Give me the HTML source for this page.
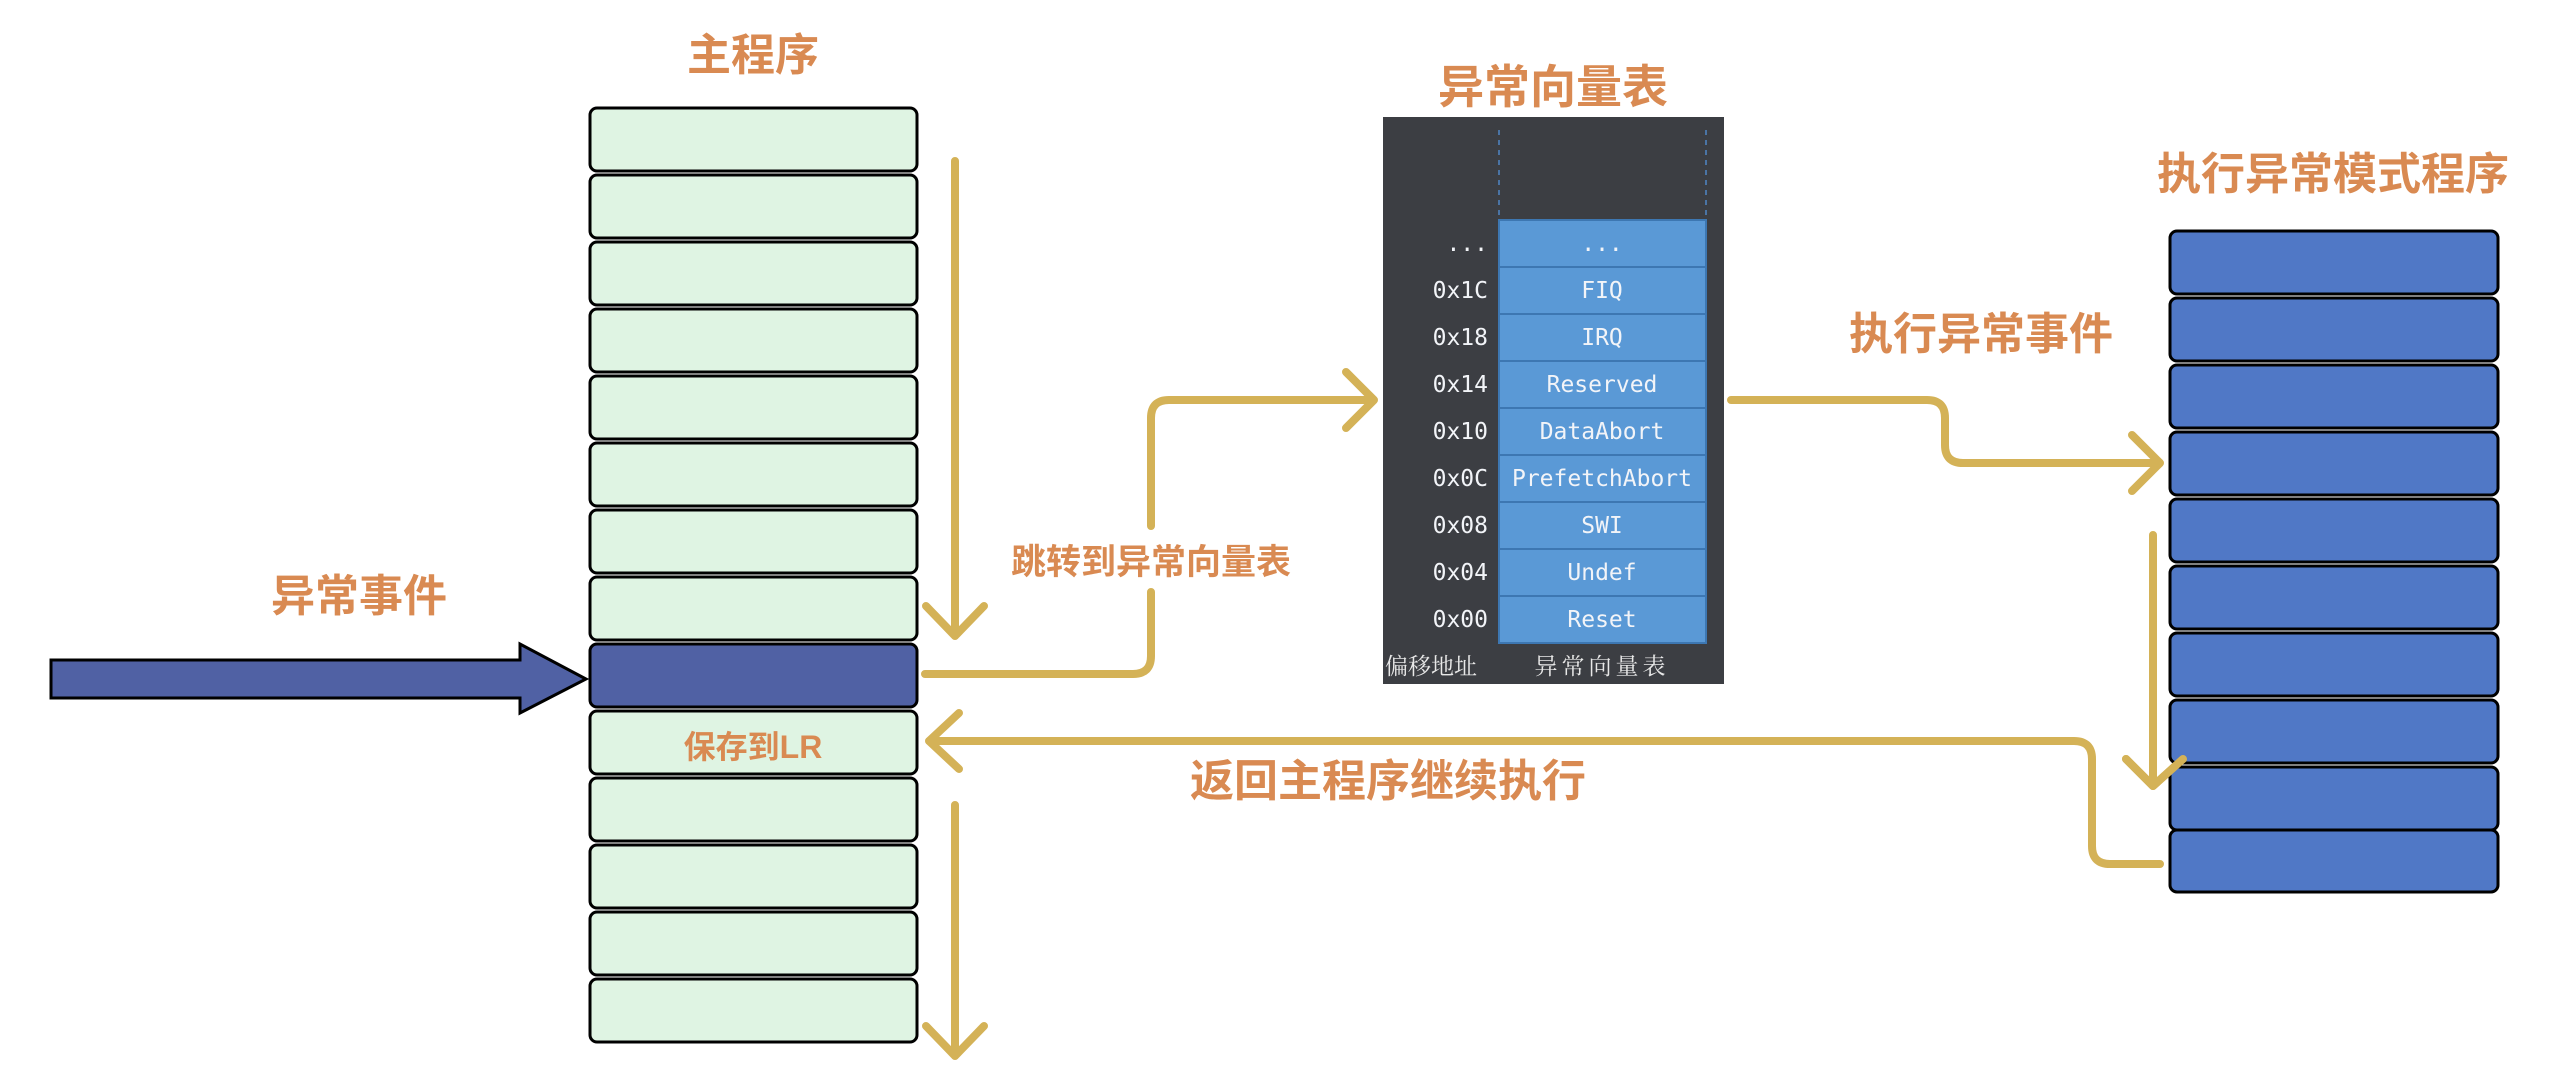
<!DOCTYPE html>
<html><head><meta charset="utf-8"><style>
html,body{margin:0;padding:0;background:#fff;}
svg{display:block}
.t{font-family:"Liberation Sans","Noto Sans CJK SC",sans-serif;font-weight:bold;fill:#d98a52;}
.m{font-family:"DejaVu Sans Mono","Liberation Mono","Noto Sans CJK SC",monospace;fill:#f2f4f8;font-size:23px;}
.g{fill:none;stroke:#d4b257;stroke-width:8;stroke-linecap:round;stroke-linejoin:round;}
</style></head><body>
<svg width="2560" height="1080" viewBox="0 0 2560 1080" xmlns="http://www.w3.org/2000/svg">
<!-- titles -->
<text class="t" x="753" y="70" font-size="44" text-anchor="middle">主程序</text>
<text class="t" x="1553" y="103" font-size="46" text-anchor="middle">异常向量表</text>
<text class="t" x="2333" y="189" font-size="44" text-anchor="middle">执行异常模式程序</text>
<text class="t" x="359" y="611" font-size="44" text-anchor="middle">异常事件</text>
<text class="t" x="1151" y="574" font-size="35" text-anchor="middle">跳转到异常向量表</text>
<text class="t" x="1981" y="349" font-size="44" text-anchor="middle">执行异常事件</text>
<text class="t" x="1388" y="796" font-size="44" text-anchor="middle">返回主程序继续执行</text>

<!-- main column -->
<g stroke="#000" stroke-width="3">
<rect x="590" y="108" width="327" height="63" rx="7" fill="#dff4e3"/>
<rect x="590" y="175" width="327" height="63" rx="7" fill="#dff4e3"/>
<rect x="590" y="242" width="327" height="63" rx="7" fill="#dff4e3"/>
<rect x="590" y="309" width="327" height="63" rx="7" fill="#dff4e3"/>
<rect x="590" y="376" width="327" height="63" rx="7" fill="#dff4e3"/>
<rect x="590" y="443" width="327" height="63" rx="7" fill="#dff4e3"/>
<rect x="590" y="510" width="327" height="63" rx="7" fill="#dff4e3"/>
<rect x="590" y="577" width="327" height="63" rx="7" fill="#dff4e3"/>
<rect x="590" y="644" width="327" height="63" rx="7" fill="#5061a4"/>
<rect x="590" y="711" width="327" height="63" rx="7" fill="#dff4e3"/>
<rect x="590" y="778" width="327" height="63" rx="7" fill="#dff4e3"/>
<rect x="590" y="845" width="327" height="63" rx="7" fill="#dff4e3"/>
<rect x="590" y="912" width="327" height="63" rx="7" fill="#dff4e3"/>
<rect x="590" y="979" width="327" height="63" rx="7" fill="#dff4e3"/>
</g>
<text class="t" x="753" y="758" font-size="32" text-anchor="middle">保存到LR</text>

<!-- blue input arrow -->
<polygon points="51,660 520,660 520,644 586,679 520,713 520,698 51,698" fill="#5061a4" stroke="#000" stroke-width="3" stroke-linejoin="miter"/>

<!-- gold arrows main -->
<path class="g" d="M955 161 V636 M926 606 L955 636 L984 606"/>
<path class="g" d="M955 805 V1056 M926 1026 L955 1056 L984 1026"/>
<path class="g" d="M925 674 H1133 Q1151 674 1151 656 V592 M1151 526 V418 Q1151 400 1169 400 H1374 M1346 372 L1374 400 L1346 428"/>
<path class="g" d="M929 741 H2074 Q2092 741 2092 759 V846 Q2092 864 2110 864 H2160 M959 713 L929 741 L959 769"/>
<path class="g" d="M1731 400 H1927 Q1945 400 1945 418 V445 Q1945 463 1963 463 H2160 M2132 435 L2160 463 L2132 491"/>
<path class="g" d="M2153 535 V786 M2126 759 L2153 786 L2183 759"/>

<!-- vector table -->
<rect x="1383" y="117" width="341" height="567" fill="#3c3e43"/>
<line x1="1499" y1="130" x2="1499" y2="220" stroke="#4f86c6" stroke-width="1.5" stroke-dasharray="5,5"/>
<line x1="1706" y1="130" x2="1706" y2="220" stroke="#4f86c6" stroke-width="1.5" stroke-dasharray="5,5"/>
<g fill="#5a99d6" stroke="#3d77b2" stroke-width="2">
<rect x="1499" y="220" width="207" height="47"/>
<rect x="1499" y="267" width="207" height="47"/>
<rect x="1499" y="314" width="207" height="47"/>
<rect x="1499" y="361" width="207" height="47"/>
<rect x="1499" y="408" width="207" height="47"/>
<rect x="1499" y="455" width="207" height="47"/>
<rect x="1499" y="502" width="207" height="47"/>
<rect x="1499" y="549" width="207" height="47"/>
<rect x="1499" y="596" width="207" height="47"/>
</g>
<g class="m" text-anchor="middle">
<text x="1602" y="251">...</text>
<text x="1602" y="298">FIQ</text>
<text x="1602" y="345">IRQ</text>
<text x="1602" y="392">Reserved</text>
<text x="1602" y="439">DataAbort</text>
<text x="1602" y="486">PrefetchAbort</text>
<text x="1602" y="533">SWI</text>
<text x="1602" y="580">Undef</text>
<text x="1602" y="627">Reset</text>
</g>
<g class="m" text-anchor="end">
<text x="1488" y="251">...</text>
<text x="1488" y="298">0x1C</text>
<text x="1488" y="345">0x18</text>
<text x="1488" y="392">0x14</text>
<text x="1488" y="439">0x10</text>
<text x="1488" y="486">0x0C</text>
<text x="1488" y="533">0x08</text>
<text x="1488" y="580">0x04</text>
<text x="1488" y="627">0x00</text>
</g>
<text x="1385" y="674" font-family="'Noto Serif CJK SC',serif" font-size="23" fill="#e8e8e8">偏移地址</text>
<text x="1602" y="674" font-family="'Noto Serif CJK SC',serif" font-size="23" fill="#e8e8e8" text-anchor="middle" letter-spacing="4">异常向量表</text>

<!-- right column -->
<g stroke="#000" stroke-width="3" fill="#5078c6">
<rect x="2170" y="231" width="328" height="63" rx="7"/>
<rect x="2170" y="298" width="328" height="63" rx="7"/>
<rect x="2170" y="365" width="328" height="63" rx="7"/>
<rect x="2170" y="432" width="328" height="63" rx="7"/>
<rect x="2170" y="499" width="328" height="63" rx="7"/>
<rect x="2170" y="566" width="328" height="63" rx="7"/>
<rect x="2170" y="633" width="328" height="63" rx="7"/>
<rect x="2170" y="700" width="328" height="63" rx="7"/>
<rect x="2170" y="767" width="328" height="63" rx="7"/>
<rect x="2170" y="830" width="328" height="62" rx="7"/>
</g>
<path class="g" d="M2153 755 V786 M2126 759 L2153 786 L2183 759"/>
</svg>
</body></html>
